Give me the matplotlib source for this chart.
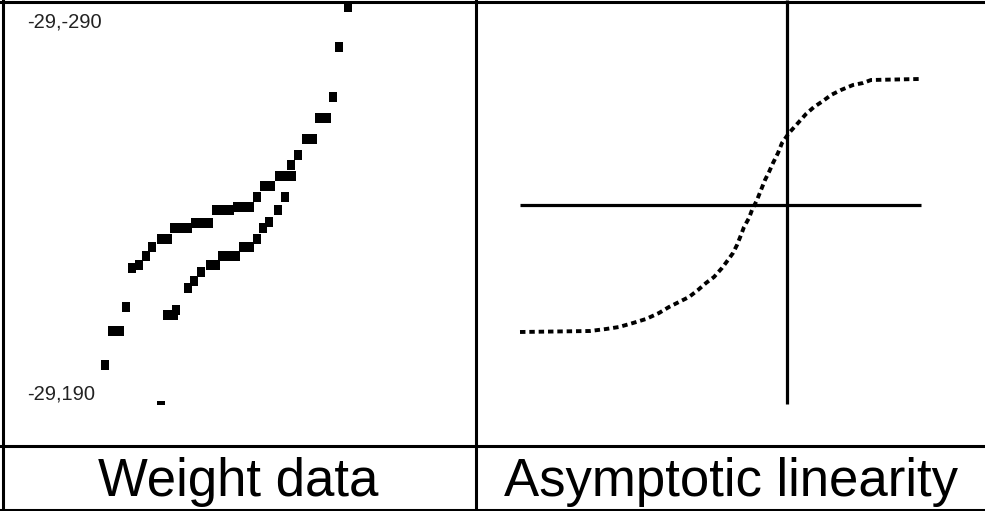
import matplotlib.pyplot as plt
from matplotlib.lines import Line2D

W, H = 985, 511

# weight data, plotter screen coordinates (y grows downwards)
upper_x = [347.5, 339.3, 333.3, 318.5, 326.5, 305.5, 312.5, 297.8, 291.0,
           278.5, 285.0, 291.5, 263.5, 270.5, 257.3, 237.0, 243.3, 249.6,
           215.5, 222.5, 229.5, 194.5, 201.7, 209.0, 173.8, 181.0, 188.0,
           160.5, 168.0, 152.3, 146.0, 139.3, 131.7, 125.5, 112.0, 119.5,
           104.5]
upper_y = [6.7, 47.3, 97.3, 118.3, 118.3, 139.3, 139.3, 155.3, 164.7,
           176.0, 176.0, 176.0, 185.7, 185.7, 196.8, 206.7, 206.7, 206.7,
           210.3, 210.3, 210.3, 222.8, 222.8, 222.8, 227.5, 227.5, 227.5,
           238.8, 238.8, 246.7, 256.0, 265.0, 267.7, 306.7, 330.7, 330.7,
           364.7]
lower_x = [284.5, 278.3, 269.3, 263.3, 257.3, 242.8, 249.6, 222.0, 229.0,
           236.2, 209.5, 215.5, 201.0, 194.2, 188.0, 176.0, 167.0, 173.5]
lower_y = [197.0, 209.5, 222.3, 227.7, 239.0, 247.0, 247.0, 256.3, 256.3,
           256.3, 264.7, 264.7, 271.7, 280.8, 288.0, 309.7, 314.7, 314.7]
stray_x = [161.0]
stray_y = [403.0]
corner_labels = ["-29,-290", "-29,190"]

# asymptotic curve, relative to the crosshair
curve_x = [-267, -197, -181, -168, -154, -141, -128, -118, -108, -98,
           -89, -81, -73, -65, -59, -54, -50, -46, -43, -38, -35, -30, -26,
           -22, -18, -14, -9, -5, 2, 11, 19, 27, 36, 44, 54, 66, 76, 84, 132]
curve_y = [-127, -126, -124, -122, -118, -114, -108, -102, -97, -92,
           -85, -78, -72, -63, -55, -48, -40, -30, -22, -13, -5, 5, 15, 25,
           33, 42, 52, 62, 72, 82, 91, 98, 104, 110, 115, 120, 122, 125, 126]
h_axis = (-267, 134)
v_axis = (-199, 205)

captions = ["Weight data", "Asymptotic linearity"]

fig = plt.figure(figsize=(W / 100, H / 100), dpi=100)
fig.patch.set_facecolor("white")


def fx(px):
    return px / W


def fy(py):
    return 1 - py / H


split_x, split_y = 476, 445.5

# left cell
ax1 = fig.add_axes([0, fy(split_y), fx(split_x), split_y / H])
ax1.set_xlim(0, split_x)
ax1.set_ylim(split_y, 0)
ax1.axis("off")
box = [(-3.75, -4.5), (3.75, -4.5), (3.75, 4.5), (-3.75, 4.5), (-3.75, -4.5)]
dash = [(-4.2, -1.6), (4.2, -1.6), (4.2, 1.6), (-4.2, 1.6), (-4.2, -1.6)]
for xs, ys in [(upper_x, upper_y), (lower_x, lower_y)]:
    ax1.plot(xs, ys, linestyle="none", marker=box, markersize=6.5,
             color="black", markeredgewidth=0)
ax1.plot(stray_x, stray_y, linestyle="none", marker=dash, markersize=6.0,
         color="black", markeredgewidth=0)

# right cell
ax2 = fig.add_axes([fx(split_x), fy(split_y), 1 - fx(split_x), split_y / H])
ax2.set_xlim(split_x - 787, W - 787)
ax2.set_ylim(205 - split_y, 205)
ax2.axis("off")
ax2.hlines(0, *h_axis, color="black", lw=2.3)
ax2.vlines(0, *v_axis, color="black", lw=2.3)
ax2.plot(curve_x, curve_y, color="black", lw=2.8, dashes=(1.4, 1.0),
         dash_capstyle="butt")

# table rules
lw = 2.2
fig.add_artist(Line2D([0, 1], [fy(2.5), fy(2.5)], color="black", lw=lw))
fig.add_artist(Line2D([0, 1], [fy(split_y), fy(split_y)], color="black", lw=lw))
fig.add_artist(Line2D([0, 1], [fy(509.5), fy(509.5)], color="black", lw=lw))
fig.add_artist(Line2D([fx(2.5), fx(2.5)], [0, 1], color="black", lw=lw))
fig.add_artist(Line2D([fx(split_x), fx(split_x)], [0, 1], color="black", lw=lw))

fig.text(fx(27), fy(27), corner_labels[0], fontsize=14.5,
         family="Liberation Sans", color="#222222")
fig.text(fx(27), fy(400), corner_labels[1], fontsize=14.5,
         family="Liberation Sans", color="#222222")

fig.text(fx(238), fy(496), captions[0], ha="center", va="baseline",
         fontsize=38, family="Liberation Sans")
fig.text(fx(731), fy(496), captions[1], ha="center", va="baseline",
         fontsize=38, family="Liberation Sans")

fig.savefig("out.png", dpi=100, facecolor="white")
